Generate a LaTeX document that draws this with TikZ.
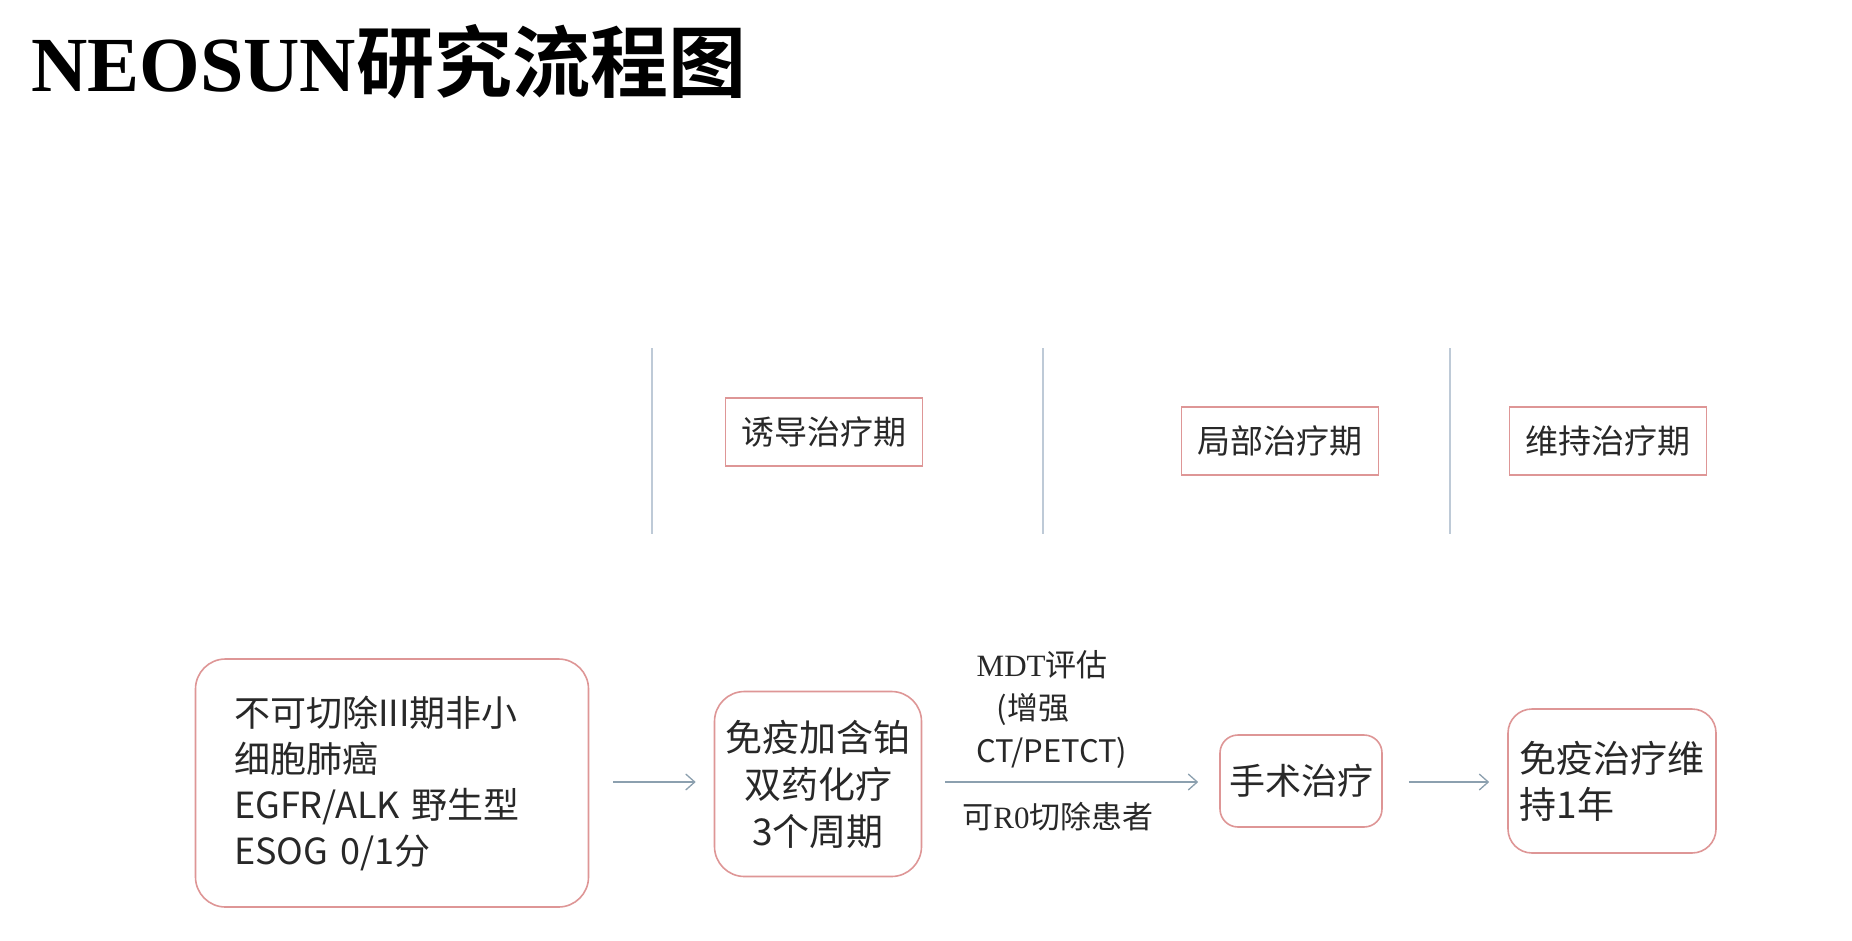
\documentclass[tikz,border=0pt]{standalone}
\usepackage{fontspec}
\setmainfont{Noto Sans CJK SC}
\newfontfamily\cjkbold{Noto Sans CJK SC Bold}
\newfontfamily\serifl{Liberation Serif}
\usetikzlibrary{arrows.meta}
\definecolor{boxred}{RGB}{222,150,150}
\definecolor{sepline}{RGB}{190,202,215}
\definecolor{arrowc}{RGB}{140,160,175}
\definecolor{txt}{RGB}{40,40,40}
\tikzset{
  phasebox/.style={draw=boxred, line width=1.6pt, fill=white, minimum width=197pt, minimum height=68pt, inner sep=0pt, text=txt, font=\fontsize{33}{38}\selectfont},
  roundbox/.style={draw=boxred, line width=1.6pt, fill=white, rounded corners=30pt, inner sep=0pt, text=txt},
  flowarrow/.style={draw=arrowc, line width=1.3pt, -{Straight Barb[length=9pt,width=16pt,line width=1.3pt]}},
  sepstyle/.style={draw=sepline, line width=1.3pt},
  lbl/.style={text=txt, inner sep=0pt, font=\fontsize{31}{43}\selectfont}
}
\begin{document}
\begin{tikzpicture}[x=1pt,y=-1pt]
\useasboundingbox (0,0) rectangle (1852,940);
% title
\node[anchor=west, inner sep=0pt] (title) at (31,62) {\fontsize{78}{80}\selectfont{\serifl\bfseries NEOSUN}{\cjkbold 研究流程图}};
% separators
\coordinate (s1t) at (652,348); \coordinate (s1b) at (652,534);
\coordinate (s2t) at (1043,348); \coordinate (s2b) at (1043,534);
\coordinate (s3t) at (1450,348); \coordinate (s3b) at (1450,534);
\draw[sepstyle] (s1t) -- (s1b);
\draw[sepstyle] (s2t) -- (s2b);
\draw[sepstyle] (s3t) -- (s3b);
% phase labels
\node[phasebox] (p1) at (824,432) {诱导治疗期};
\node[phasebox] (p2) at (1280,441) {局部治疗期};
\node[phasebox] (p3) at (1608,441) {维持治疗期};
% flow boxes
\node[roundbox, minimum width=393pt, minimum height=248pt, text width=316pt, align=left, font=\fontsize{36}{46}\selectfont] (b1) at (392,783)
  {不可切除III期非小\\细胞肺癌\\EGFR/ALK 野生型\\ESOG 0/1分};
\node[roundbox, minimum width=207pt, minimum height=185pt, align=center, font=\fontsize{37}{47}\selectfont] (b2) at (818,784)
  {免疫加含铂\\双药化疗\\3个周期};
\node[roundbox, rounded corners=18pt, minimum width=162pt, minimum height=92pt, font=\fontsize{36}{42}\selectfont] (b3) at (1301,781)
  {手术治疗};
\node[roundbox, rounded corners=24pt, minimum width=208pt, minimum height=144pt, align=left, font=\fontsize{37}{46}\selectfont] (b4) at (1612,781)
  {免疫治疗维\\持1年\phantom{疗维}};
% arrows
\draw[flowarrow] ([xshift=24pt]b1.east |- 0,782) -- ([xshift=-18pt]b2.west |- 0,782);
\draw[flowarrow] ([xshift=23pt]b2.east |- 0,782) -- ([xshift=-21pt]b3.west |- 0,782);
\draw[flowarrow] ([xshift=26pt]b3.east |- 0,782) -- ([xshift=-18pt]b4.west |- 0,782);
% edge labels
\node[lbl, align=left, anchor=south] (l1) at (1052,769)
  {{\serifl MDT}评估\\\hspace{20pt}(增强\\CT/PETCT)};
\node[lbl, anchor=center] (l2) at (1058,817) {可{\serifl R0}切除患者};
\end{tikzpicture}
\end{document}
